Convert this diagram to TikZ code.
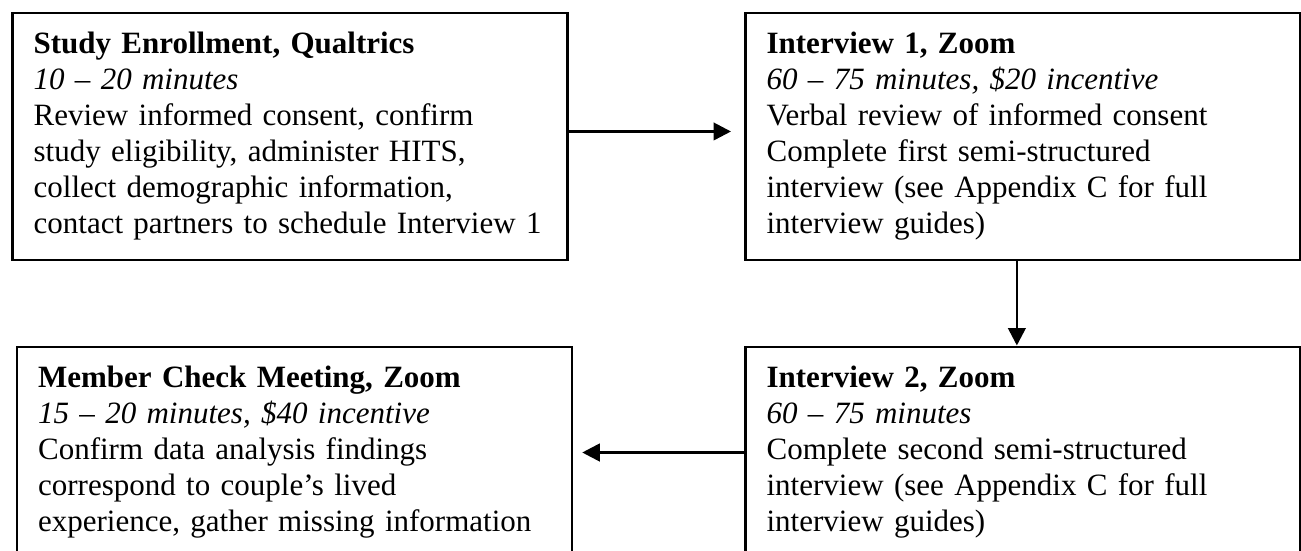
\documentclass[tikz,border=0pt]{standalone}
\usepackage{fontspec}
\setmainfont{Liberation Serif}
\usepackage{tikz}
\usetikzlibrary{arrows.meta, positioning, calc}
\tikzset{
  stagebox/.style={rectangle, draw=black, line width=1.1pt, anchor=north west,
    text width=205pt, align=left, inner xsep=8.5pt, inner ysep=7.8pt,
    font=\fontsize{12.4pt}{14.4pt}\selectfont},
  flow/.style={-{Triangle[length=7pt, width=7pt]}, line width=1.1pt, color=black}
}

\begin{document}
\begin{tikzpicture}
  \useasboundingbox (0,0) rectangle (520.4pt,-220pt);

  % Top row
  \node[stagebox] (enroll) at (4.4pt,-4.6pt) {\textbf{Study Enrollment, Qualtrics}\\
    \textit{10 – 20 minutes}\\
    Review informed consent, confirm\\
    study eligibility, administer HITS,\\
    collect demographic information,\\
    contact partners to schedule Interview 1};
  \node[stagebox] (int1) at (297.6pt,-4.6pt) {\textbf{Interview 1, Zoom}\\
    \textit{60 – 75 minutes, \$20 incentive}\\
    Verbal review of informed consent\\
    Complete first semi-structured\\
    interview (see Appendix C for full\\
    interview guides)};

  % Bottom row
  \node[stagebox] (int2) at (297.6pt,-138.2pt) {\textbf{Interview 2, Zoom}\\
    \textit{60 – 75 minutes}\\
    Complete second semi-structured\\
    interview (see Appendix C for full\\
    interview guides)};
  \node[stagebox] (member) at (6.2pt,-138.2pt) {\textbf{Member Check Meeting, Zoom}\\
    \textit{15 – 20 minutes, \$40 incentive}\\
    Confirm data analysis findings\\
    correspond to couple’s lived\\
    experience, gather missing information};

  % Connectors
  \draw[flow] ([yshift=2pt]enroll.east) -- ([xshift=-5.2pt,yshift=2pt]int1.west);
  \draw[flow] ([xshift=-2.4pt]int1.south) -- ([xshift=-2.4pt]int2.north);
  \draw[flow] ([yshift=-42.8pt]int2.north west) -- ([xshift=3.6pt,yshift=-42.8pt]member.north east);
\end{tikzpicture}
\end{document}
